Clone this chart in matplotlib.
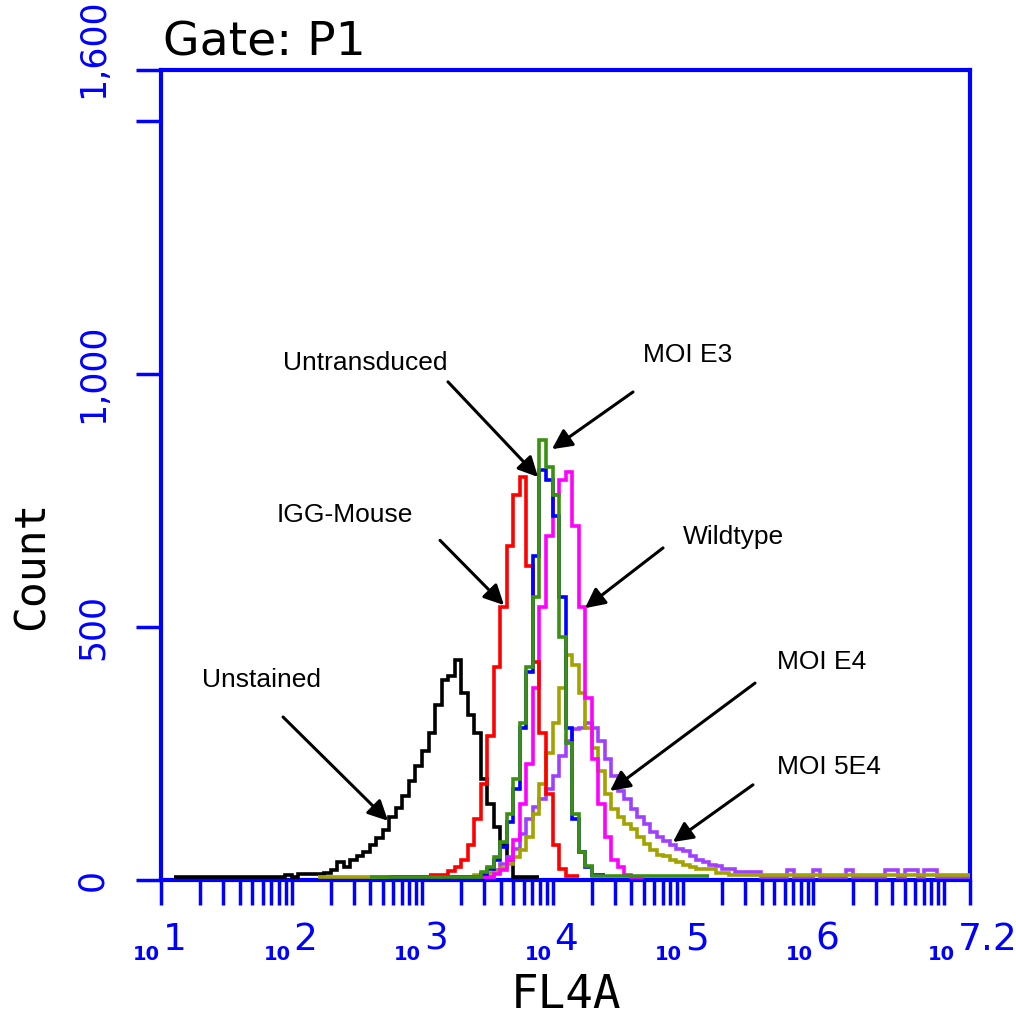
import numpy as np
import matplotlib.pyplot as plt
from matplotlib import transforms
from matplotlib.ticker import FixedLocator, NullFormatter

BIN = 0.05  # width of one channel, in decades of FL4-A

# counts per channel, first channel given as log10(FL4-A)
unstained_start = 1.10
unstained = [5, 5, 5, 5, 5, 5, 5, 5, 5, 5, 5, 5, 5, 5, 5, 5, 5,
             10, 6, 12, 12, 12, 12, 14, 20, 35, 26, 40, 48, 55, 70, 82, 98,
             125, 142, 165, 195, 225, 255, 290, 345, 395, 402, 434, 370, 325,
             290, 200, 150, 105, 70, 40, 6, 5, 5, 5]

igg_start = 3.05
igg = [10, 10, 10, 18, 25, 40, 70, 120, 190, 285, 420, 540, 660, 760, 796,
       620, 430, 290, 170, 70, 22, 8, 8]

untrans_start = 2.75
untrans = [6, 6, 6, 6, 6, 6, 6, 6, 6, 6, 6, 6, 6, 6,
           12, 22, 40, 65, 115, 180, 300, 410, 640, 810, 790, 720, 560, 300,
           120, 55, 25, 10, 10]

moi_e3_start = 2.60
moi_e3 = [6, 6, 6, 6, 6, 6, 6, 6, 6, 6, 6, 6, 6, 6, 6, 6, 6,
          15, 25, 45, 75, 130, 200, 310, 420, 560, 870, 815, 760, 480, 270,
          130, 55, 28, 8, 8, 8, 8, 8, 8, 8, 8, 8, 8, 8, 8, 8, 8, 8, 8, 8, 8]

wildtype_start = 2.80
wildtype = [5, 5, 5, 5, 5, 5, 5, 5, 5, 5, 5, 5, 5, 5, 5,
            12, 20, 40, 80, 150, 230, 380, 540, 680, 760, 790, 806, 700, 540,
            360, 240, 150, 85, 40, 25, 10, 6, 6]

moi_e4_start = 2.20
moi_e4 = [6, 6, 6, 6, 6, 6, 6, 6, 6, 6, 6, 6, 6, 6, 6, 6, 6, 6, 6, 6, 6, 6, 6, 6,
          10, 10, 14, 18, 24, 32, 45, 60, 85, 130, 190, 250, 310, 380, 444,
          425, 370, 300, 260, 215, 170, 140, 125, 110, 100, 85, 72, 60, 50, 48,
          40, 35, 30, 25, 22, 22, 22, 14, 14,
          10, 10, 10, 10, 10, 10, 10, 10, 10, 10, 10, 10, 10, 10, 10, 10, 10,
          10, 10, 10, 10, 10, 10, 10, 10, 10, 10, 10, 10, 10, 10, 10, 10, 10,
          10, 10, 10]

moi_5e4_start = 2.75
moi_5e4 = [5, 5, 5, 5, 5, 5, 5, 5, 5, 5, 5, 5, 5, 5, 5, 5,
           20, 32, 45, 62, 90, 120, 145, 160, 180, 205, 245, 275, 298, 300,
           310, 300, 275, 240, 205, 175, 160, 140, 125, 110, 95, 85, 78, 70,
           62, 58, 48, 40, 36, 30, 28, 22, 22, 16, 16, 16, 16,
           6, 6, 6, 6, 20, 6, 6, 6, 20, 6, 6, 6, 6, 20, 6, 6, 6, 6, 6, 20,
           20, 6, 20, 20, 6, 20, 20, 6, 6, 6, 6, 6]

series = [
    (unstained_start, unstained, "black"),
    (moi_5e4_start, moi_5e4, "#a040ff"),
    (moi_e4_start, moi_e4, "#a3a300"),
    (wildtype_start, wildtype, "#ff00ff"),
    (igg_start, igg, "#ff0000"),
    (untrans_start, untrans, "#0000ff"),
    (moi_e3_start, moi_e3, "#3a9010"),
]

# annotations: label position, arrow tail, arrow tip  (log10 FL4-A, count)
labels = ["Untransduced", "MOI E3", "IGG-Mouse", "Wildtype", "MOI E4", "MOI 5E4", "Unstained"]
label_pos = [(1.935, 1021), (4.693, 1037), (1.889, 721), (5.0, 677),
             (5.72, 431), (5.72, 223), (1.314, 395)]
arrow_tail = [(3.199, 984), (4.617, 964), (3.138, 671), (4.847, 656),
              (5.552, 389), (5.536, 188), (1.935, 322)]
arrow_tip = [(3.889, 796), (3.996, 851), (3.628, 543), (4.249, 537),
             (4.441, 176), (4.923, 75), (2.739, 117)]

y_ticks = [0, 500, 1000, 1500, 1600]
y_ticklabels = ["0", "500", "1,000", "", ""]
x_major = [1, 2, 3, 4, 5, 6, 7, 7.2]
x_label_decades = [1, 2, 3, 4, 5, 6, 7.2]
x_exp_text = ["1", "2", "3", "4", "5", "6", "7.2"]

BLUE = "#0000ff"

fig = plt.figure(figsize=(10.16, 10.19), dpi=100)
ax = fig.add_axes([0.1585, 0.1364, 0.7963, 0.7949])
ax.set_xscale("log")

for start, counts, col in series:
    edges = 10 ** (start + BIN * np.arange(len(counts) + 1))
    ax.stairs(counts, edges, baseline=None, color=col, lw=2.6, zorder=3)

ax.set_xlim(10, 10 ** 7.2)
ax.set_ylim(0, 1600)

for sp in ax.spines.values():
    sp.set_color(BLUE)
    sp.set_linewidth(3)

ax.xaxis.set_major_locator(FixedLocator([10.0 ** d for d in x_major]))
ax.xaxis.set_minor_locator(FixedLocator([k * 10.0 ** d for d in range(1, 7) for k in range(2, 10)]))
ax.xaxis.set_major_formatter(NullFormatter())
ax.xaxis.set_minor_formatter(NullFormatter())
ax.tick_params(axis="both", which="both", direction="out", length=18, width=2.5,
               color=BLUE)

ax.set_yticks(y_ticks)
ax.set_yticklabels(y_ticklabels, rotation=90, va="center", color=BLUE, fontsize=25)
ax.tick_params(axis="y", pad=19)
ax.text(-0.063, 1643, "1,600", transform=transforms.blended_transform_factory(ax.transAxes, ax.transData),
        rotation=90, ha="right", va="center", color=BLUE, fontsize=25, clip_on=False)

# decade labels drawn as a small "10" and a big exponent
trans = transforms.blended_transform_factory(ax.transData, fig.transFigure)
for d, txt in zip(x_label_decades, x_exp_text):
    shift = -14 if d == 7.2 else 0
    ax.text(10.0 ** d, 0.058, "10", transform=transforms.offset_copy(trans, fig=fig, x=shift - 1, units="dots"),
            ha="right", va="baseline", color=BLUE, fontsize=14, fontweight="bold")
    ax.text(10.0 ** d, 0.068, txt, transform=transforms.offset_copy(trans, fig=fig, x=shift + 2, units="dots"),
            ha="left", va="baseline", color=BLUE, fontsize=27)

fig.text(0.0315, 0.4455, "Count", rotation=90, ha="center", va="center",
         family="DejaVu Sans Mono", fontsize=31)
fig.text(0.557, 0.0226, "FL4A", ha="center", va="center", family="DejaVu Sans Mono", fontsize=33)
fig.text(0.1604, 0.946, "Gate: P1", ha="left", va="baseline", fontsize=34)

for lab, pos, tail, tip in zip(labels, label_pos, arrow_tail, arrow_tip):
    ax.text(10 ** pos[0], pos[1], lab, ha="left", va="center", family="Liberation Sans", fontsize=19)
    ax.annotate("", xy=(10 ** tip[0], tip[1]), xytext=(10 ** tail[0], tail[1]),
                arrowprops=dict(arrowstyle="-|>", color="black", lw=2.2, mutation_scale=30,
                                shrinkA=0, shrinkB=0), zorder=5)

plt.savefig("out.png", dpi=100)
